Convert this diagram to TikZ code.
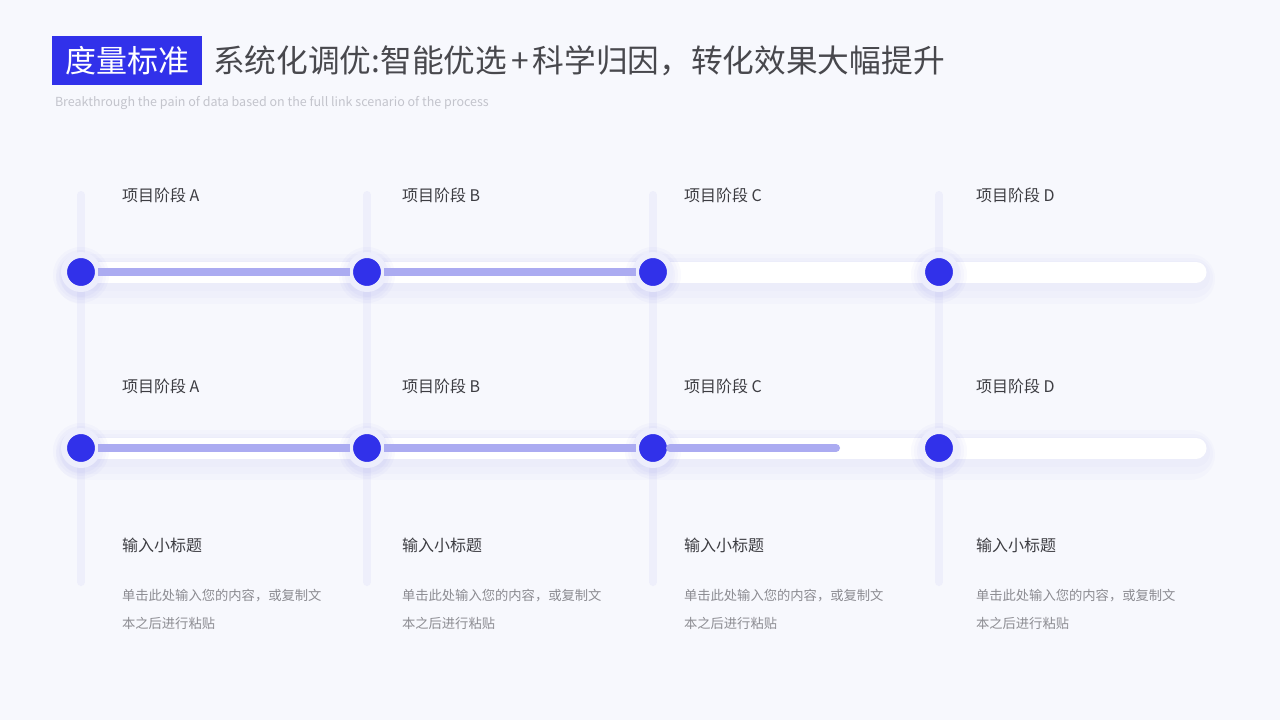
\documentclass[tikz,border=0pt]{standalone}
\usepackage{fontspec}
\setmainfont{Noto Sans CJK SC}
\usetikzlibrary{positioning}
\definecolor{bgcol}{HTML}{F7F8FD}
\definecolor{mainblue}{HTML}{3131EA}
\definecolor{progcol}{HTML}{ABABF1}
\definecolor{halocol}{HTML}{EDEEFC}
\definecolor{railcol}{HTML}{EEEFFB}
\definecolor{darktext}{HTML}{3D3D42}
\definecolor{titletext}{HTML}{48484D}
\definecolor{bodytext}{HTML}{8C8C92}
\definecolor{subtext}{HTML}{C3C4CC}

\tikzset{
  rail/.style={draw=railcol, line width=8pt, line cap=round},
  track/.style={draw=white, line width=21pt, line cap=round},
  glow/.style={draw=mainblue, draw opacity=0.015, line cap=round},
  prog/.style={draw=progcol, line width=8pt},
  dot/.style={circle, fill=mainblue, draw=halocol, line width=6pt, minimum size=34pt, inner sep=0pt, outer sep=0pt},
  stage/.style={anchor=west, font=\fontsize{16}{18}\selectfont, text=darktext},
  subhead/.style={anchor=west, font=\fontsize{16}{18}\selectfont, text=darktext},
  body/.style={anchor=north west, align=left, font=\fontsize{13.3}{28}\selectfont, text=bodytext}
}

\begin{document}
\begin{tikzpicture}[x=1pt, y=-1pt, every node/.style={inner sep=0pt, outer sep=0pt}]
  \fill[bgcol] (0,0) rectangle (1280,720);
  \useasboundingbox (0,0) rectangle (1280,720);

  % header
  \node[fill=mainblue, minimum width=150pt, minimum height=49pt, anchor=north west, text=white, font=\fontsize{31}{34}\selectfont] (badge) at (52,36) {度量标准};
  \node[anchor=west, text=titletext, font=\fontsize{31.7}{34}\selectfont, right=11pt of badge] (title) {系统化调优:智能优选\hspace{4pt}+\hspace{4pt}科学归因，转化效果大幅提升};
  \node[anchor=west, text=subtext, font=\fontsize{12.5}{14}\selectfont] (subtitle) at (55,103) {Breakthrough the pain of data based on the full link scenario of the process};

  % vertical rails
  \coordinate (r1) at (81,195);  \coordinate (s1) at (81,582);
  \coordinate (r2) at (367,195); \coordinate (s2) at (367,582);
  \coordinate (r3) at (653,195); \coordinate (s3) at (653,582);
  \coordinate (r4) at (939,195); \coordinate (s4) at (939,582);
  \draw[rail] (r1) -- (s1);
  \draw[rail] (r2) -- (s2);
  \draw[rail] (r3) -- (s3);
  \draw[rail] (r4) -- (s4);

  % tracks
  \coordinate (e1) at (1196,272);
  \coordinate (e2) at (1196,448);
  \draw[glow, line width=50pt] (81,279) -- (1190,279);
  \draw[glow, line width=40pt] (81,278) -- (1193,278);
  \draw[glow, line width=30pt] (81,276) -- (1195,276);
  \draw[glow, line width=50pt] (81,455) -- (1190,455);
  \draw[glow, line width=40pt] (81,454) -- (1193,454);
  \draw[glow, line width=30pt] (81,452) -- (1195,452);
  \draw[track] (81,272) -- (e1);
  \draw[track] (81,448) -- (e2);

  % dots
  \foreach \r in {28,25,22} {
    \fill[mainblue, opacity=0.025] (81,275) circle (\r pt);
    \fill[mainblue, opacity=0.025] (367,275) circle (\r pt);
    \fill[mainblue, opacity=0.025] (653,275) circle (\r pt);
    \fill[mainblue, opacity=0.025] (939,275) circle (\r pt);
    \fill[mainblue, opacity=0.025] (81,451) circle (\r pt);
    \fill[mainblue, opacity=0.025] (367,451) circle (\r pt);
    \fill[mainblue, opacity=0.025] (653,451) circle (\r pt);
    \fill[mainblue, opacity=0.025] (939,451) circle (\r pt);
  }
  \node[dot] (a1) at (81,272) {};
  \node[dot] (a2) at (367,272) {};
  \node[dot] (a3) at (653,272) {};
  \node[dot] (a4) at (939,272) {};
  \node[dot] (b1) at (81,448) {};
  \node[dot] (b2) at (367,448) {};
  \node[dot] (b3) at (653,448) {};
  \node[dot] (b4) at (939,448) {};

  % progress
  \coordinate (bend) at (836,448);
  \draw[prog] (a1) -- (a2);
  \draw[prog] (a2) -- (a3);
  \draw[prog] (b1) -- (b2);
  \draw[prog] (b2) -- (b3);
  \draw[prog, line cap=round] (b3) -- (bend);

  % stage labels
  \node[stage, right=41pt of r1] (ta1) {项目阶段 A};
  \node[stage, right=35pt of r2] (ta2) {项目阶段 B};
  \node[stage, right=31pt of r3] (ta3) {项目阶段 C};
  \node[stage, right=37pt of r4] (ta4) {项目阶段 D};
  \node[stage] (tb1) at (122,386) {项目阶段 A};
  \node[stage] (tb2) at (402,386) {项目阶段 B};
  \node[stage] (tb3) at (684,386) {项目阶段 C};
  \node[stage] (tb4) at (976,386) {项目阶段 D};

  % descriptions
  \node[subhead] (h1) at (122,545) {输入小标题};
  \node[subhead] (h2) at (402,545) {输入小标题};
  \node[subhead] (h3) at (684,545) {输入小标题};
  \node[subhead] (h4) at (976,545) {输入小标题};
  \node[body, below=44pt of h1.west, anchor=north west] (d1) {单击此处输入您的内容，或复制文\\本之后进行粘贴};
  \node[body, below=44pt of h2.west, anchor=north west] (d2) {单击此处输入您的内容，或复制文\\本之后进行粘贴};
  \node[body, below=44pt of h3.west, anchor=north west] (d3) {单击此处输入您的内容，或复制文\\本之后进行粘贴};
  \node[body, below=44pt of h4.west, anchor=north west] (d4) {单击此处输入您的内容，或复制文\\本之后进行粘贴};
\end{tikzpicture}
\end{document}
